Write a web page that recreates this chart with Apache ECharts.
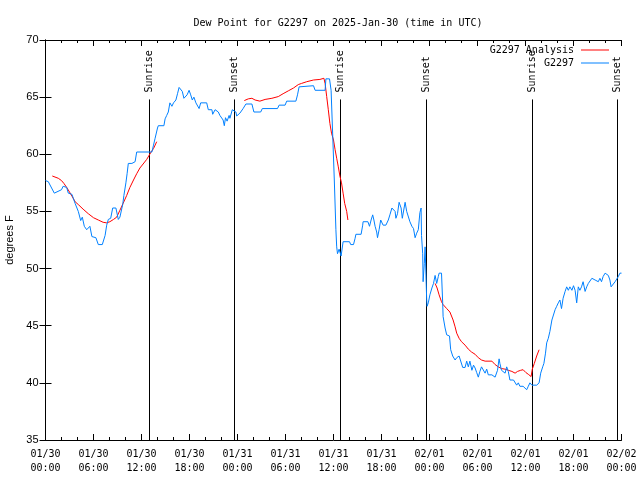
<!DOCTYPE html>
<html>
<head>
<meta charset="utf-8">
<script src="https://cdn.jsdelivr.net/npm/echarts@6/dist/echarts.min.js"></script>
<style>html,body{margin:0;padding:0;background:#fff}#c{width:640px;height:480px}</style>
</head>
<body>
<div id="c"></div>
<script>
// hours since 2025-01-30 00:00 UTC
var xTickLabels = ['01/30\n00:00','01/30\n06:00','01/30\n12:00','01/30\n18:00','01/31\n00:00','01/31\n06:00','01/31\n12:00','01/31\n18:00','02/01\n00:00','02/01\n06:00','02/01\n12:00','02/01\n18:00','02/02\n00:00'];
var yTicks = [35,40,45,50,55,60,65,70];

var sunHours = [12.98, 23.5, 36.8, 47.5, 60.85, 71.4];
var sunNames = ['Sunrise','Sunset','Sunrise','Sunset','Sunrise','Sunset'];
var sunLineTop = 64.8;

var analysisSeg1 = [[0.85,58.1],[1.6,57.9],[2.0,57.7],[2.3,57.45],[2.65,57.1],[3.0,56.7],[3.3,56.35],[3.7,55.85],[4.1,55.6],[4.7,55.2],[5.35,54.8],[6.0,54.45],[6.6,54.25],[7.2,54.05],[7.65,54.0],[8.05,54.1],[8.5,54.3],[8.9,54.5],[9.3,55.1],[9.7,55.7],[10.15,56.4],[10.55,57.1],[11.0,57.75],[11.4,58.3],[11.8,58.8],[12.2,59.15],[12.65,59.55],[13.2,60.2],[13.5,60.5],[13.9,61.1]];
var analysisSeg2 = [[24.85,64.7],[25.35,64.85],[25.8,64.9],[26.2,64.75],[26.8,64.65],[27.45,64.8],[28.3,64.9],[29.1,65.05],[29.7,65.3],[30.35,65.55],[31.0,65.8],[31.6,66.1],[32.0,66.2],[32.65,66.35],[33.5,66.5],[34.3,66.55],[34.8,66.65],[34.95,66.2],[35.15,65.05],[35.35,63.9],[35.55,62.7],[35.75,61.85],[36.0,61.25],[36.2,60.4],[36.4,59.65],[36.6,58.9],[36.8,58.1],[37.0,57.5],[37.2,56.6],[37.4,55.7],[37.65,55.0],[37.8,54.25]];
var analysisSeg3 = [[48.7,48.7],[48.95,48.3],[49.2,47.7],[49.5,47.1],[49.7,46.85],[50.15,46.5],[50.55,46.2],[50.75,46.1],[50.95,45.5],[51.2,44.9],[51.4,44.35],[51.7,43.9],[52.0,43.6],[52.45,43.3],[52.85,42.95],[53.25,42.7],[53.7,42.5],[54.1,42.2],[54.5,42.0],[54.95,41.9],[55.8,41.9],[56.2,41.6],[56.6,41.4],[57.0,41.25],[57.45,41.2],[57.85,41.1],[58.3,41.0],[58.7,40.85],[59.0,41.0],[59.4,41.1],[59.7,41.15],[60.05,40.9],[60.35,40.75],[60.7,40.55],[60.85,41.2],[61.1,41.7],[61.4,42.35],[61.7,42.9]];

var observed = [[0.0,57.7],[0.35,57.6],[1.1,56.6],[1.3,56.7],[2.0,56.9],[2.2,57.2],[2.65,57.1],[2.85,56.6],[3.3,56.5],[3.5,56.1],[3.7,55.7],[4.1,55.0],[4.4,54.2],[4.6,54.5],[4.85,53.7],[5.15,53.4],[5.55,53.7],[5.8,52.8],[6.0,52.9],[6.3,52.7],[6.6,52.1],[7.1,52.1],[7.45,52.9],[7.65,53.8],[7.85,54.3],[8.15,54.4],[8.4,55.3],[8.8,55.3],[9.1,54.3],[9.3,54.5],[9.65,55.6],[9.8,56.4],[10.05,57.5],[10.2,58.3],[10.35,59.2],[10.8,59.2],[11.0,59.1],[11.2,59.35],[11.4,60.2],[13.3,60.2],[13.5,60.8],[13.7,61.4],[14.0,62.3],[14.1,62.5],[14.8,62.5],[14.95,63.1],[15.15,63.4],[15.35,63.7],[15.55,64.5],[15.8,64.2],[16.0,64.5],[16.3,64.75],[16.5,65.3],[16.7,65.85],[16.9,65.9],[17.1,65.5],[17.3,64.9],[17.5,64.75],[17.7,65.2],[17.95,65.6],[18.15,65.2],[18.35,64.75],[18.55,65.0],[18.8,64.5],[19.0,64.6],[19.2,64.0],[19.4,64.5],[20.15,64.5],[20.35,63.9],[20.8,63.9],[20.9,63.5],[21.2,63.9],[21.4,64.0],[21.6,63.7],[21.8,63.4],[22.0,63.5],[22.2,63.0],[22.35,62.5],[22.5,63.2],[22.7,62.9],[22.95,63.4],[23.05,63.15],[23.35,63.9],[23.55,64.0],[23.8,63.7],[23.9,63.35],[24.3,63.6],[24.7,64.0],[25.05,64.4],[25.8,64.4],[26.05,63.7],[26.9,63.7],[27.1,64.0],[29.0,64.0],[29.2,64.3],[29.95,64.3],[30.15,64.65],[31.3,64.65],[31.5,65.2],[31.7,65.9],[31.9,66.0],[33.5,66.0],[33.7,65.6],[34.95,65.6],[35.05,66.6],[35.5,66.6],[35.7,65.6],[35.9,65.6],[36.1,57.75],[36.3,53.4],[36.4,51.9],[36.5,51.3],[36.7,51.7],[36.8,51.6],[36.95,51.1],[37.2,52.35],[38.0,52.35],[38.15,52.1],[38.5,52.1],[38.7,52.65],[38.8,53.0],[39.45,53.0],[39.65,53.8],[39.7,54.1],[40.3,54.1],[40.5,53.7],[40.7,54.25],[40.9,54.7],[41.05,54.25],[41.2,53.7],[41.4,53.2],[41.5,52.7],[41.7,53.4],[41.9,54.25],[42.1,54.4],[42.2,53.8],[42.55,53.8],[42.85,54.25],[43.05,54.7],[43.3,55.3],[43.5,55.4],[43.7,55.0],[43.8,54.4],[44.0,54.8],[44.2,55.8],[44.45,55.3],[44.6,54.4],[44.7,54.4],[44.95,55.8],[45.15,55.0],[45.35,55.1],[45.55,54.1],[45.8,53.7],[46.0,53.5],[46.2,52.7],[46.4,53.1],[46.6,53.4],[46.8,54.9],[46.95,55.3],[47.0,52.9],[47.15,51.3],[47.2,48.85],[47.35,50.45],[47.45,51.9],[47.5,50.75],[47.65,47.25],[47.7,46.7],[47.85,47.0],[48.05,47.7],[48.3,48.3],[48.5,48.7],[48.7,49.4],[48.9,48.7],[49.1,49.3],[49.2,49.6],[49.5,49.6],[49.65,47.0],[49.7,45.8],[49.95,44.8],[50.15,44.2],[50.5,44.1],[50.65,42.9],[50.9,42.35],[51.2,42.0],[51.4,42.2],[51.6,42.1],[51.7,42.35],[51.95,42.2],[52.15,41.35],[52.45,41.35],[52.65,41.9],[52.85,41.4],[53.05,41.9],[53.3,41.1],[53.5,41.55],[53.7,41.3],[53.9,40.9],[54.1,40.5],[54.3,41.0],[54.5,41.4],[54.7,41.3],[54.95,40.85],[55.15,41.2],[55.35,40.7],[55.55,40.85],[55.8,40.7],[56.0,40.7],[56.2,40.5],[56.4,40.4],[56.5,41.1],[56.7,42.1],[56.8,41.7],[57.0,41.1],[57.2,41.0],[57.45,40.85],[57.65,41.4],[57.85,41.0],[58.05,40.25],[58.3,40.1],[58.5,40.25],[58.7,40.3],[58.9,39.8],[59.1,40.0],[59.3,39.7],[59.5,39.8],[59.7,39.7],[59.95,39.7],[60.15,39.4],[60.35,39.7],[60.55,40.0],[60.8,39.8],[61.0,39.8],[61.4,39.8],[61.7,40.0],[61.9,40.85],[62.15,41.4],[62.3,41.7],[62.5,42.6],[62.65,43.5],[62.85,43.9],[63.05,44.5],[63.3,45.5],[63.5,45.65],[63.7,46.4],[63.9,46.7],[64.1,47.0],[64.3,47.25],[64.5,46.5],[64.7,47.4],[64.95,48.0],[65.15,48.4],[65.35,48.1],[65.55,48.4],[65.8,48.1],[66.0,48.5],[66.2,48.1],[66.4,47.0],[66.6,48.4],[66.8,48.1],[67.0,48.4],[67.2,48.85],[67.45,48.0],[67.65,48.4],[67.85,48.7],[68.05,48.8],[68.3,49.15],[68.5,49.3],[68.7,49.0],[68.9,49.15],[69.1,48.85],[69.3,49.15],[69.5,48.85],[69.7,49.3],[69.95,49.6],[70.15,49.6],[70.35,49.4],[70.55,49.0],[70.7,48.4],[70.95,48.5],[71.2,48.85],[71.4,49.0],[71.6,49.3],[71.8,49.6],[72.0,49.6]];

var analysis = analysisSeg1.concat([[14.0,'-']], analysisSeg2, [[38.0,'-']], analysisSeg3);

var MONO = '"DejaVu Sans Mono", monospace';
var SANS = '"Liberation Sans", Arial, sans-serif';

function xAxisCfg(pos, showLabel) {
  return {
    type: 'value', position: pos, min: 0, max: 72, interval: 6,
    axisLine: { show: true, lineStyle: { color: '#000', width: 1 } },
    axisTick: { show: true, inside: true, length: 6, lineStyle: { color: '#000' } },
    minorTick: { show: true, splitNumber: 3, length: 3, lineStyle: { color: '#000' } },
    splitLine: { show: false },
    axisLabel: {
      show: showLabel, color: '#000', fontFamily: MONO, fontSize: 10, lineHeight: 14, margin: 7,
      formatter: function (v) { return xTickLabels[Math.round(v / 6)]; }
    }
  };
}
function yAxisCfg(pos, showLabel) {
  var c = {
    type: 'value', position: pos, min: yTicks[0], max: yTicks[yTicks.length - 1], interval: 5,
    axisLine: { show: true, lineStyle: { color: '#000', width: 1 } },
    axisTick: { show: true, inside: true, length: 6, lineStyle: { color: '#000' } },
    splitLine: { show: false },
    axisLabel: { show: showLabel, color: '#000', fontFamily: SANS, fontSize: 11, margin: 7 }
  };
  if (showLabel) {
    c.name = 'degrees F';
    c.nameLocation = 'middle';
    c.nameRotate = 90;
    c.nameGap = 27;
    c.nameTextStyle = { color: '#000', fontFamily: SANS, fontSize: 11 };
  }
  return c;
}

var chart = echarts.init(document.getElementById('c'));
chart.setOption({
  animation: false,
  backgroundColor: '#fff',
  title: {
    text: 'Dew Point for G2297 on 2025-Jan-30 (time in UTC)',
    left: 333, top: 13, textAlign: 'center',
    textStyle: { fontFamily: MONO, fontSize: 10, fontWeight: 'normal', color: '#000' }
  },
  legend: {
    data: ['G2297 Analysis', 'G2297'],
    orient: 'vertical', right: 31, top: 44, align: 'right', padding: 0,
    icon: 'rect', itemWidth: 28, itemHeight: 1, itemGap: 1,
    textStyle: { fontFamily: MONO, fontSize: 10, color: '#000', lineHeight: 12, padding: [0, 2, 0, 0] }
  },
  grid: { left: 45.5, right: 18.5, top: 40, bottom: 40, containLabel: false, outerBoundsMode: 'none' },
  xAxis: [xAxisCfg('bottom', true), xAxisCfg('top', false)],
  yAxis: [yAxisCfg('left', true), yAxisCfg('right', false)],
  series: [
    {
      type: 'custom', name: 'sun', silent: true, z: 1,
      data: sunHours.map(function (h) { return [h, sunLineTop]; }),
      renderItem: function (params, api) {
        var h = api.value(0);
        var top = api.coord([h, sunLineTop]);
        var bot = api.coord([h, yTicks[0]]);
        var x = Math.round(top[0]) + 0.5;
        return {
          type: 'group',
          children: [
            { type: 'line', shape: { x1: x, y1: top[1], x2: x, y2: bot[1] }, style: { stroke: '#000', lineWidth: 1 } },
            { type: 'text', x: x, y: top[1] - 7, rotation: Math.PI / 2,
              style: { text: sunNames[params.dataIndex], font: '10px ' + MONO, fill: '#000', align: 'left', verticalAlign: 'middle', textAlign: 'left', textVerticalAlign: 'middle' } }
          ]
        };
      }
    },
    {
      type: 'line', name: 'G2297 Analysis', data: analysis, symbol: 'none', connectNulls: false, z: 2,
      lineStyle: { color: '#ff0000', width: 1 }, itemStyle: { color: '#ff0000' }
    },
    {
      type: 'line', name: 'G2297', data: observed, symbol: 'none', z: 3,
      lineStyle: { color: '#0080ff', width: 1 }, itemStyle: { color: '#0080ff' }
    }
  ]
});
</script>
</body>
</html>
